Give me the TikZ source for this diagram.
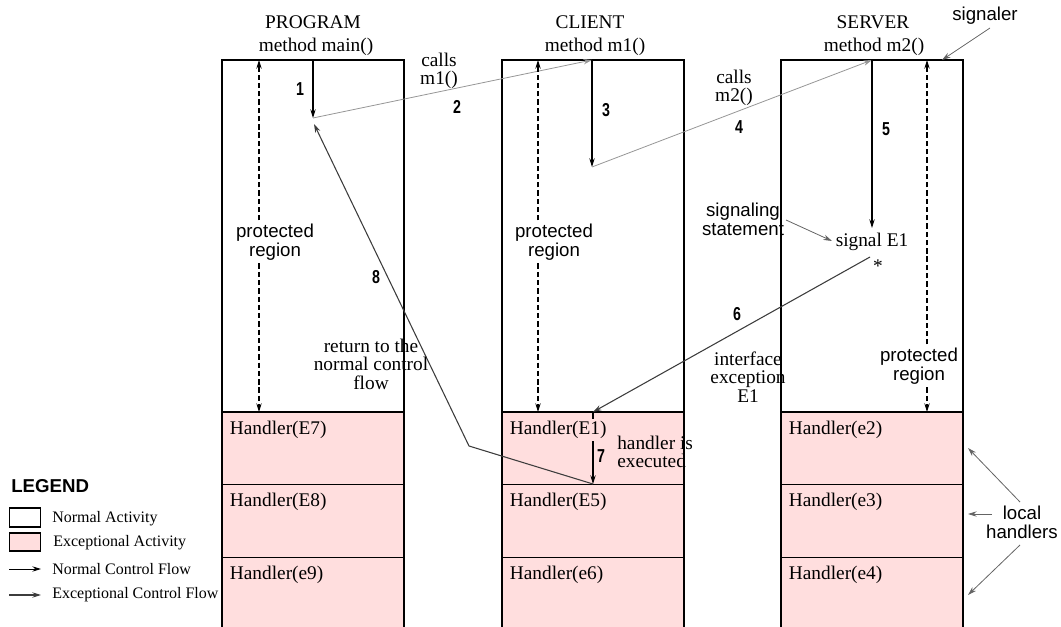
\documentclass[tikz,border=0pt]{standalone}
\usepackage{fontspec}
\setmainfont{Liberation Serif}
\setsansfont{Liberation Sans}
\usetikzlibrary{arrows.meta}
\definecolor{exc}{RGB}{255,222,222}
\definecolor{lgray}{RGB}{150,150,150}
\definecolor{dgray}{RGB}{60,60,60}
\definecolor{mgray}{RGB}{100,100,100}
\newcommand\nmx[1]{\scalebox{0.82}[1.08]{#1}}
\begin{document}
\begin{tikzpicture}[x=0.75pt,y=-0.75pt,
  lbl/.style={font=\fontsize{14.5}{13.8}\selectfont, inner sep=0pt, align=center},
  sflbl/.style={font=\sffamily\fontsize{14}{14.3}\selectfont, inner sep=0pt, align=center},
  num/.style={font=\sffamily\bfseries\fontsize{13}{14}\selectfont, inner sep=0pt},
  hd/.style={font=\fontsize{14.5}{16}\selectfont, inner sep=2pt, anchor=west, fill=exc},
  leg/.style={font=\fontsize{12}{14}\selectfont, inner sep=0pt, anchor=west},
  boxline/.style={draw, line width=0.85pt},
  sepline/.style={draw, line width=0.75pt},
  topline/.style={draw, line width=1.6pt},
  tip/.style={-{Stealth[length=6.5pt,width=4pt]}},
  flow/.style={tip, line width=0.8pt},
  dashflow/.style={tip, line width=0.8pt, dash pattern=on 4pt off 2.2pt},
  callflow/.style={tip, line width=0.6pt, lgray},
  excflow/.style={tip, line width=0.8pt, dgray},
  note/.style={tip, line width=0.6pt, mgray}
]
\useasboundingbox (0,0) rectangle (1061,627);

% ---------- fills ----------
\fill[exc] (222,412) rectangle (404,640);
\fill[exc] (502,412) rectangle (684,640);
\fill[exc] (781,412) rectangle (963,640);

% ---------- box outlines ----------
\foreach \l/\r in {222/404, 502/684, 781/963}{
  \draw[boxline] (\l,640) -- (\l,60) -- (\r,60) -- (\r,640);
  \draw[topline] (\l,412) -- (\r,412);
  \draw[sepline] (\l,484) -- (\r,484);
  \draw[sepline] (\l,557) -- (\r,557);
}

% ---------- titles ----------
\node[lbl] (progT) at (313,22) {PROGRAM};
\node[lbl] (progM) at (316,47) {method main()};
\node[lbl] (cliT) at (590,22) {CLIENT};
\node[lbl] (cliM) at (595,47) {method m1()};
\node[lbl] (srvT) at (873,22) {SERVER};
\node[lbl] (srvM) at (874,47) {method m2()};

% ---------- coordinates ----------
\coordinate (p1a) at (313,60);
\coordinate (p1b) at (313,118);
\coordinate (p8end) at (314,124);
\coordinate (c1a) at (592,60);
\coordinate (c1b) at (592,167);
\coordinate (s1a) at (872,60);
\coordinate (s1b) at (872,228);
\coordinate (s6a) at (870,257);
\coordinate (c7a) at (593,412);
\coordinate (c7b) at (593,484);
\coordinate (c8m) at (469,446);

% ---------- normal flow ----------
\draw[flow] (p1a) -- (p1b);
\draw[callflow] (p1b) -- (c1a);
\draw[flow] (c1a) -- (c1b);
\draw[callflow] (c1b) -- (s1a);
\draw[flow] (s1a) -- (s1b);

% ---------- exceptional flow ----------
\draw[excflow] (s6a) -- (c7a);
\draw[flow] (c7a) -- (c7b);
\draw[excflow] (c7b) -- (c8m) -- (p8end);

% ---------- protected regions ----------
\node[sflbl] (pr1) at (275,242) {protected\\region};
\coordinate (d1t) at (259,60);
\coordinate (d1b) at (259,412);
\draw[dashflow] (pr1.north -| d1t) ++(0,-3) -- (d1t);
\draw[dashflow] (pr1.south -| d1b) ++(0,3) -- (d1b);

\node[sflbl] (pr2) at (554,242) {protected\\region};
\coordinate (d2t) at (538,60);
\coordinate (d2b) at (538,412);
\draw[dashflow] (pr2.north -| d2t) ++(0,-3) -- (d2t);
\draw[dashflow] (pr2.south -| d2b) ++(0,3) -- (d2b);

\node[sflbl] (pr3) at (919,366) {protected\\region};
\coordinate (d3t) at (927,60);
\coordinate (d3b) at (927,412);
\draw[dashflow] (pr3.north -| d3t) ++(0,-3) -- (d3t);
\draw[dashflow] (pr3.south -| d3b) ++(0,3) -- (d3b);

% ---------- handlers ----------
\node[hd] (h7) at (227,430) {Handler(E7)};
\node[hd] (h8) at (227,502) {Handler(E8)};
\node[hd] (h9) at (227,575) {Handler(e9)};
\node[hd] (h1) at (507,430) {Handler(E1)};
\node[hd] (h5) at (507,502) {Handler(E5)};
\node[hd] (h6) at (507,575) {Handler(e6)};
\node[hd] (h2) at (786,430) {Handler(e2)};
\node[hd] (h3) at (786,502) {Handler(e3)};
\node[hd] (h4) at (786,575) {Handler(e4)};

% ---------- labels ----------
\node[lbl] (calls1) at (439,71) {calls\\m1()};
\node[lbl] (calls2) at (734,88) {calls\\m2()};
\node[lbl] (sig) at (872,242) {signal E1};
\node[lbl] (star) at (878,266) {*};
\node[lbl] (ret) at (371,364) {return to the\\normal control\\flow};
\node[lbl] (iface) at (748,377) {interface\\exception\\E1};
\node[lbl, align=left, anchor=west] (hexe) at (617,452) {handler is\\executed};

\node[num] (n1) at (300,89) {\nmx{1}};
\node[num] (n2) at (457,107) {\nmx{2}};
\node[num] (n3) at (606,110) {\nmx{3}};
\node[num] (n4) at (739,127) {\nmx{4}};
\node[num] (n5) at (886,129) {\nmx{5}};
\node[num] (n6) at (737,314) {\nmx{6}};
\node[num] (n7) at (601,456) {\nmx{7}};
\node[num] (n8) at (376,277) {\nmx{8}};

% ---------- annotations ----------
\node[sflbl] (signaler) at (985,16) {signaler};
\coordinate (sgt) at (942,60);
\draw[note] (990,28) -- (sgt);

\node[sflbl] (sigst) at (743,219) {signaling\\statement};
\coordinate (sigp) at (832,241);
\draw[note] (786,220) -- (sigp);

\node[sflbl] (loc) at (1022,522) {local\\handlers};
\coordinate (lh1) at (968,448);
\coordinate (lh2) at (968,514);
\coordinate (lh3) at (968,595);
\draw[note] (1020,502) -- (lh1);
\draw[note] (992,514) -- (lh2);
\draw[note] (1020,545) -- (lh3);

% ---------- legend ----------
\node[font=\sffamily\bfseries\fontsize{14}{16}\selectfont, inner sep=0pt, anchor=west] (legT) at (11,486) {LEGEND};
\draw[line width=0.8pt] (9.5,508) rectangle (40.5,527);
\node[leg] (legN) at (52,519) {Normal Activity};
\draw[line width=0.8pt, fill=exc] (9.5,533) rectangle (40.5,551);
\node[leg] (legE) at (53,543) {Exceptional Activity};
\coordinate (la1) at (9,569);
\coordinate (la2) at (41,569);
\draw[tip, line width=0.7pt] (la1) -- (la2);
\node[leg] (legNF) at (52,569) {Normal Control Flow};
\coordinate (lb1) at (9,595);
\coordinate (lb2) at (41,595);
\draw[tip, line width=0.8pt, dgray] (lb1) -- (lb2);
\node[leg] (legEF) at (52,595) {Exceptional Control Flow};
\end{tikzpicture}
\end{document}
